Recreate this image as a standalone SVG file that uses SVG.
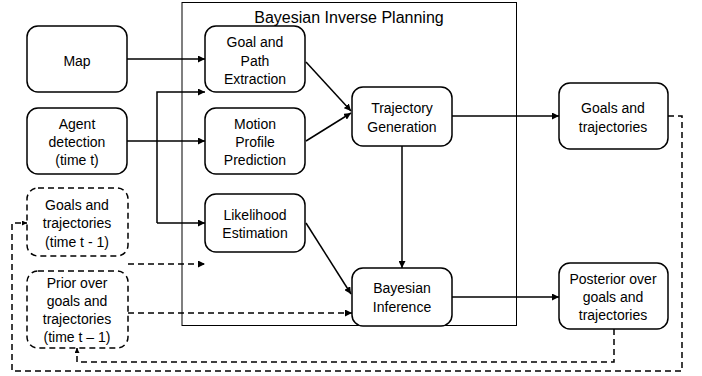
<svg xmlns="http://www.w3.org/2000/svg" width="702" height="376" viewBox="0 0 702 376">
<style>
.box{fill:#fff;stroke:#000;stroke-width:1.5}
.dbox{fill:#fff;stroke:#000;stroke-width:1.5;stroke-dasharray:6 4}
.t{font-family:"Liberation Sans",Arial,sans-serif;font-size:14px;fill:#000;text-anchor:middle}
.c{fill:none;stroke:#000;stroke-width:1.5}
.d{fill:none;stroke:#000;stroke-width:1.5;stroke-dasharray:6 4}
</style>
<defs>
<marker id="ah" viewBox="0 0 10 10" refX="10" refY="5" markerWidth="7" markerHeight="7" markerUnits="userSpaceOnUse" orient="auto"><path d="M0,0 L10,5 L0,10 z" fill="#000"/></marker>
<marker id="as" viewBox="0 0 10 10" refX="10" refY="5" markerWidth="5" markerHeight="5" markerUnits="userSpaceOnUse" orient="auto"><path d="M0,0 L10,5 L0,10 z" fill="#000"/></marker>
</defs>
<g id="bip">
<rect x="182" y="2.5" width="334.5" height="323" fill="none" stroke="#000" stroke-width="1"/>
<text x="349" y="23" font-family="'Liberation Sans',Arial,sans-serif" font-size="16" text-anchor="middle">Bayesian Inverse Planning</text>
</g>
<g id="connectors">
<path class="c" d="M127,59 H205" marker-end="url(#ah)"/>
<path class="c" d="M127,141 H205" marker-end="url(#ah)"/>
<path class="c" d="M157,223 V92 H205" marker-end="url(#ah)"/>
<path class="c" d="M157,223 H205" marker-end="url(#ah)"/>
<path class="c" d="M306,62 L351,111" marker-end="url(#ah)"/>
<path class="c" d="M306,141 L351,113" marker-end="url(#ah)"/>
<path class="c" d="M452,116 H559" marker-end="url(#ah)"/>
<path class="c" d="M402,146 V268" marker-end="url(#ah)"/>
<path class="c" d="M306,223 L351,294" marker-end="url(#ah)"/>
<path class="c" d="M452,297 H559" marker-end="url(#ah)"/>
<path class="d" d="M128,264 H205" marker-end="url(#ah)"/>
<path class="d" d="M128,313 H352" marker-end="url(#ah)"/>
<path class="d" d="M614,329 V362 H77 V348" marker-end="url(#as)"/>
<path class="d" d="M668,116 H682 V371 H12 V223 H27" marker-end="url(#as)"/>
</g>
<g id="map">
<rect class="box" x="27" y="26" width="100" height="66" rx="11"/>
<text class="t" x="77" y="66">Map</text>
</g>
<g id="agent">
<rect class="box" x="27" y="108" width="100" height="66" rx="11"/>
<text class="t" x="77" y="129">Agent</text>
<text class="t" x="77" y="147">detection</text>
<text class="t" x="77" y="165">(time t)</text>
</g>
<g id="goals-prev">
<rect class="dbox" x="27" y="188" width="101" height="68" rx="11"/>
<text class="t" x="77" y="210">Goals and</text>
<text class="t" x="77" y="228">trajectories</text>
<text class="t" x="77" y="247">(time t - 1)</text>
</g>
<g id="prior">
<rect class="dbox" x="27" y="271" width="101" height="77" rx="11"/>
<text class="t" x="77" y="288">Prior over</text>
<text class="t" x="77" y="306">goals and</text>
<text class="t" x="77" y="324">trajectories</text>
<text class="t" x="77" y="342">(time t – 1)</text>
</g>
<g id="goal-path">
<rect class="box" x="205" y="26" width="100" height="66" rx="11"/>
<text class="t" x="255" y="47">Goal and</text>
<text class="t" x="255" y="66">Path</text>
<text class="t" x="255" y="84">Extraction</text>
</g>
<g id="motion">
<rect class="box" x="205" y="108" width="100" height="66" rx="11"/>
<text class="t" x="255" y="129">Motion</text>
<text class="t" x="255" y="147">Profile</text>
<text class="t" x="255" y="165">Prediction</text>
</g>
<g id="likelihood">
<rect class="box" x="205" y="194" width="100" height="58" rx="11"/>
<text class="t" x="255" y="220">Likelihood</text>
<text class="t" x="255" y="238">Estimation</text>
</g>
<g id="trajgen">
<rect class="box" x="352" y="87" width="100" height="59" rx="11"/>
<text class="t" x="402" y="113">Trajectory</text>
<text class="t" x="402" y="132">Generation</text>
</g>
<g id="bayes">
<rect class="box" x="352" y="268" width="100" height="58" rx="11"/>
<text class="t" x="402" y="293">Bayesian</text>
<text class="t" x="402" y="312">Inference</text>
</g>
<g id="goals-out">
<rect class="box" x="559" y="83" width="109" height="66" rx="11"/>
<text class="t" x="613" y="113">Goals and</text>
<text class="t" x="613" y="132">trajectories</text>
</g>
<g id="posterior">
<rect class="box" x="559" y="263" width="109" height="66" rx="11"/>
<text class="t" x="613" y="284">Posterior over</text>
<text class="t" x="613" y="302">goals and</text>
<text class="t" x="613" y="320">trajectories</text>
</g>
</svg>
